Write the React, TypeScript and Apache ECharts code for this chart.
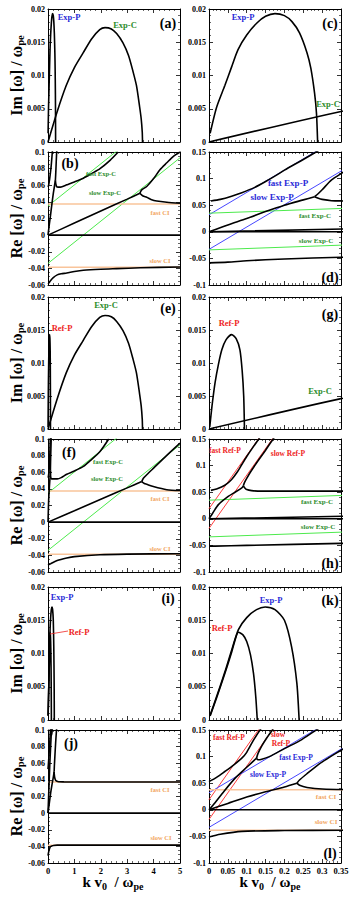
import React, { useEffect, useRef } from "react";
import * as echarts from "echarts";

const FONT = "Liberation Serif";

// ---------- tick settings ----------
const xLeft = { min: 0, max: 5, interval: 1, minor: 5 };
const xRight = { min: 0, max: 0.35, interval: 0.05, minor: 5 };
const yIm = { min: 0, max: 0.02, interval: 0.005, minor: 5 };
const yReLeft = { min: -0.06, max: 0.1, interval: 0.02, minor: 4 };
const yReRight = { min: -0.1, max: 0.15, interval: 0.05, minor: 5 };

// ---------- asymptote lines [k, Re w] ----------
const fastExpC = [[0, 0.035], [5, 0.162]];
const slowExpC = [[0, -0.034], [5, 0.093]];
const fastExpP = [[0, 0.032], [0.5, 0.242]];
const slowExpP = [[0, -0.033], [0.5, 0.177]];
const fastRefP = [[0, 0.019], [0.2, 0.219]];
const slowRefP = [[0, -0.018], [0.2, 0.182]];
const fastCI = [[0, 0.0375], [5, 0.0375]];
const slowCI = [[0, -0.0385], [5, -0.0385]];
const zeroMode = [[0, 0], [5, 0]];

// ---------- case 1 : Exp-C + Exp-P ----------
const imExpP1 = [[0.003, 0.0013], [0.02, 0.0052], [0.042, 0.0085], [0.06, 0.0113], [0.077, 0.0139], [0.1, 0.0161], [0.127, 0.0179], [0.15, 0.0189], [0.175, 0.0193], [0.2, 0.019], [0.22, 0.0181], [0.24, 0.0164], [0.26, 0.0134], [0.27, 0.0111], [0.28, 0.0073], [0.285, 0.0043], [0.288, 0]];
const imExpC = [[0, 0], [0.35, 0.0046], [0.69, 0.0085], [1.0, 0.0112], [1.33, 0.0134], [1.65, 0.0155], [1.96, 0.0169], [2.16, 0.0172], [2.4, 0.017], [2.6, 0.0163], [2.84, 0.0149], [3.05, 0.013], [3.22, 0.0106], [3.35, 0.0085], [3.47, 0.0053], [3.53, 0.0035], [3.57, 0.0015], [3.58, 0]];
const reExpPUpper1 = [[0.005, 0.058], [0.03, 0.061], [0.06, 0.067], [0.087, 0.0736], [0.12, 0.083], [0.149, 0.094], [0.18, 0.107], [0.2, 0.116], [0.25, 0.136], [0.286, 0.151], [0.32, 0.166]];
const reExpPMid1 = [[0, 0], [0.05, 0.013], [0.1, 0.025], [0.15, 0.038], [0.2, 0.05], [0.25, 0.06], [0.28, 0.066]];
const reExpPMidUp1 = [[0.28, 0.066], [0.29, 0.072], [0.3, 0.079], [0.325, 0.0976], [0.356, 0.112], [0.4, 0.134], [0.45, 0.156]];
const reExpPMidDown1 = [[0.28, 0.066], [0.29, 0.063], [0.3, 0.061], [0.325, 0.0585], [0.356, 0.058], [0.4, 0.0577], [0.5, 0.058], [0.71, 0.0605], [1.0, 0.064], [1.34, 0.0685], [1.65, 0.074], [1.97, 0.08], [2.35, 0.09], [2.66, 0.1]];
const reExpCMid1 = [[0, 0], [1, 0.0145], [2, 0.029], [3, 0.0433], [3.48, 0.0504]];
const reExpCMidUp1 = [[3.48, 0.0504], [3.55, 0.0545], [3.74, 0.0585], [4.0, 0.068], [4.24, 0.0786], [4.5, 0.087], [4.75, 0.0948], [5, 0.1]];
const reExpCMidDown1 = [[3.48, 0.0504], [3.6, 0.047], [3.74, 0.0456], [3.9, 0.043], [4.12, 0.041], [4.5, 0.0395], [5, 0.0383]];
const reBottom1 = [[0, -0.0585], [0.05, -0.057], [0.1, -0.0545], [0.2, -0.051], [0.35, -0.0478], [0.5, -0.0465], [0.71, -0.0456], [1.0, -0.0438], [1.34, -0.0423], [2, -0.041], [2.6, -0.0403], [3.5, -0.0393], [5, -0.0383]];

// ---------- case 2 : Exp-C + Ref-P ----------
const imRefP2 = [[0.002, 0.0003], [0.008, 0.0035], [0.016, 0.007], [0.025, 0.0098], [0.034, 0.012], [0.045, 0.0135], [0.06, 0.0143], [0.072, 0.0137], [0.082, 0.012], [0.088, 0.0088], [0.092, 0.005], [0.094, 0]];
const reRefUp2 = [[0.005, 0.0534], [0.02, 0.056], [0.042, 0.063], [0.06, 0.074], [0.075, 0.088], [0.087, 0.102], [0.1, 0.117], [0.126, 0.144], [0.15, 0.168]];
const reRefMid2 = [[0, 0], [0.01, 0.011], [0.025, 0.0266], [0.051, 0.042], [0.069, 0.05], [0.087, 0.058], [0.091, 0.062]];
const reRefMidUp2 = [[0.091, 0.062], [0.094, 0.068], [0.1, 0.076], [0.11, 0.088], [0.13, 0.109], [0.15, 0.129], [0.17, 0.15], [0.2, 0.18]];
const reRefMidDown2 = [[0.091, 0.062], [0.095, 0.058], [0.1, 0.055], [0.113, 0.053], [0.14, 0.052], [0.35, 0.052], [0.5, 0.0535], [0.71, 0.0575], [1.0, 0.0615], [1.34, 0.067], [1.6, 0.074], [1.97, 0.085], [2.3, 0.1]];
const reExpCMid2 = [[0, 0], [1, 0.0137], [2, 0.0275], [3, 0.0412], [3.55, 0.0488]];
const reExpCMidUp2 = [[3.55, 0.0488], [3.62, 0.053], [3.74, 0.057], [4.0, 0.065], [4.49, 0.08], [5, 0.095]];
const reExpCMidDown2 = [[3.55, 0.0488], [3.65, 0.0465], [3.74, 0.0455], [3.99, 0.0428], [4.5, 0.039], [5, 0.038]];
const reBottom2 = [[0, -0.0515], [0.016, -0.0513], [0.1, -0.05], [0.35, -0.0462], [0.71, -0.0432], [1.0, -0.0415], [1.97, -0.0392], [3, -0.0385], [5, -0.038]];

// ---------- case 3 : Exp-P + Ref-P ----------
const imExpP3 = [[0.003, 0.00075], [0.02, 0.0035], [0.042, 0.0072], [0.06, 0.0105], [0.078, 0.0136], [0.1, 0.0154], [0.126, 0.0166], [0.149, 0.017], [0.175, 0.0166], [0.2, 0.015], [0.219, 0.011], [0.233, 0.0055], [0.239, 0]];
const imRefP3 = [[0.003, 0.0006], [0.02, 0.0033], [0.042, 0.007], [0.06, 0.0102], [0.07, 0.0122], [0.078, 0.0132], [0.09, 0.0128], [0.1, 0.0118], [0.11, 0.0098], [0.118, 0.007], [0.124, 0.0035], [0.128, 0]];
const reRefUp3 = [[0, 0.053], [0.02, 0.061], [0.042, 0.072], [0.065, 0.084], [0.087, 0.097], [0.1, 0.108], [0.118, 0.131], [0.14, 0.155]];
const reRefMid3 = [[0, 0], [0.011, 0.009], [0.04, 0.035], [0.07, 0.06], [0.1, 0.08], [0.126, 0.097]];
const reRefMidUp3 = [[0.126, 0.097], [0.13, 0.106], [0.14, 0.12], [0.153, 0.135], [0.17, 0.152]];
const reRefMidDown3 = [[0.126, 0.097], [0.13, 0.094], [0.14, 0.095], [0.16, 0.1], [0.2, 0.115], [0.246, 0.132], [0.28, 0.148], [0.3, 0.157], [0.35, 0.178]];
const reExpPMid3 = [[0, 0], [0.05, 0.012], [0.1, 0.024], [0.15, 0.034], [0.2, 0.043], [0.233, 0.05]];
const reExpPMidUp3 = [[0.233, 0.05], [0.24, 0.056], [0.26, 0.068], [0.29, 0.085], [0.32, 0.099], [0.35, 0.112], [0.4, 0.135], [0.5, 0.177]];
const reExpPMidDown3 = [[0.233, 0.05], [0.24, 0.046], [0.26, 0.042], [0.3, 0.039], [0.4, 0.0378], [0.6, 0.0376], [1, 0.0375], [5, 0.0375]];
const reBottom3 = [[0, -0.051], [0.03, -0.046], [0.087, -0.0405], [0.2, -0.039], [0.35, -0.0385], [1, -0.0385], [5, -0.0385]];

// ---------- colours ----------
const BLACK = "#000000";
const GREEN_LINE = "#4dea4d";
const BLUE_LINE = "#4646ff";
const RED_LINE = "#ff3b3b";
const ORANGE_LINE = "#f9c49a";
const GREEN_TXT = "#2b8c2b";
const BLUE_TXT = "#2a2ad8";
const RED_TXT = "#ee2424";
const ORANGE_TXT = "#f2a55e";

// ---------- layout ----------
const COLS = [{ left: 48, width: 132 }, { left: 209, width: 132 }];
const ROWS = [
  { top: 9, h: 133, kind: "im" },
  { top: 152, h: 133, kind: "re" },
  { top: 297, h: 132, kind: "im" },
  { top: 439, h: 133, kind: "re" },
  { top: 587, h: 133, kind: "im" },
  { top: 730, h: 133, kind: "re" },
];

const fmt = (v: number) => String(Math.round(v * 10000) / 10000);

function buildOption() {
  const grid: any[] = [];
  const xAxis: any[] = [];
  const yAxis: any[] = [];
  const series: any[] = [];
  const graphic: any[] = [];

  ROWS.forEach((r, ri) => {
    COLS.forEach((c, ci) => {
      const g = ri * 2 + ci;
      grid.push({ left: c.left, top: r.top, width: c.width, height: r.h, containLabel: false });
      const xs = ci === 0 ? xLeft : xRight;
      const ys = r.kind === "im" ? yIm : ci === 0 ? yReLeft : yReRight;
      const bottomRow = ri === ROWS.length - 1;
      const common = (s: any) => ({
        type: "value",
        gridIndex: g,
        min: s.min,
        max: s.max,
        interval: s.interval,
        axisLine: { show: true, onZero: false, lineStyle: { color: BLACK, width: 1 } },
        axisTick: { show: true, inside: true, length: 4, lineStyle: { color: BLACK, width: 0.8 } },
        minorTick: { show: true, splitNumber: s.minor, length: 2, lineStyle: { color: BLACK, width: 0.6 } },
        splitLine: { show: false },
        minorSplitLine: { show: false },
      });
      xAxis.push({
        ...common(xs),
        position: "bottom",
        axisLabel: {
          show: bottomRow,
          formatter: fmt,
          fontFamily: FONT,
          fontWeight: "bold",
          fontSize: 8.5,
          color: BLACK,
          margin: 3,
          showMinLabel: true,
          showMaxLabel: true,
        },
      });
      xAxis.push({ ...common(xs), position: "top", axisLabel: { show: false } });
      yAxis.push({
        ...common(ys),
        position: "left",
        axisLabel: {
          show: true,
          formatter: fmt,
          fontFamily: FONT,
          fontWeight: "bold",
          fontSize: 8,
          color: BLACK,
          margin: 3,
          showMinLabel: true,
          showMaxLabel: true,
        },
      });
      yAxis.push({ ...common(ys), position: "right", axisLabel: { show: false } });
    });
  });

  const add = (g: number, data: number[][], color: string, width: number, z: number) => {
    series.push({
      type: "line",
      xAxisIndex: 2 * g,
      yAxisIndex: 2 * g,
      data,
      symbol: "none",
      showSymbol: false,
      smooth: color === BLACK ? 0.25 : false,
      clip: true,
      silent: true,
      z,
      lineStyle: { color, width },
    });
  };
  const blk = (g: number, arr: number[][][]) => arr.forEach((d) => add(g, d, BLACK, 1.6, 5));
  const thin = (g: number, arr: number[][][], color: string, w = 1) => arr.forEach((d) => add(g, d, color, w, 3));

  // row 1: (a), (c)
  blk(0, [imExpP1, imExpC]);
  blk(1, [imExpP1, imExpC]);
  // row 2: (b), (d)
  const case1 = [reExpPUpper1, reExpPMid1, reExpPMidUp1, reExpPMidDown1, reExpCMid1, reExpCMidUp1, reExpCMidDown1, reBottom1, zeroMode];
  thin(2, [fastExpC, slowExpC], GREEN_LINE);
  thin(2, [fastCI, slowCI], ORANGE_LINE, 1.5);
  blk(2, case1);
  thin(3, [fastExpP, slowExpP], BLUE_LINE);
  thin(3, [fastExpC, slowExpC], GREEN_LINE);
  blk(3, case1);
  // row 3: (e), (g)
  blk(4, [imRefP2, imExpC]);
  blk(5, [imRefP2, imExpC]);
  // row 4: (f), (h)
  const case2 = [reRefUp2, reRefMid2, reRefMidUp2, reRefMidDown2, reExpCMid2, reExpCMidUp2, reExpCMidDown2, reBottom2, zeroMode];
  thin(6, [fastExpC, slowExpC], GREEN_LINE);
  thin(6, [fastCI, slowCI], ORANGE_LINE, 1.5);
  blk(6, case2);
  thin(7, [fastRefP, slowRefP], RED_LINE);
  thin(7, [fastExpC, slowExpC], GREEN_LINE);
  blk(7, case2);
  // row 5: (i), (k)
  blk(8, [imExpP3, imRefP3]);
  blk(9, [imExpP3, imRefP3]);
  // row 6: (j), (l)
  const case3 = [reRefUp3, reRefMid3, reRefMidUp3, reRefMidDown3, reExpPMid3, reExpPMidUp3, reExpPMidDown3, reBottom3, zeroMode];
  thin(10, [fastCI, slowCI], ORANGE_LINE, 1.5);
  blk(10, case3);
  thin(11, [fastRefP, slowRefP], RED_LINE);
  thin(11, [fastExpP, slowExpP], BLUE_LINE);
  thin(11, [fastCI, slowCI], ORANGE_LINE, 1.5);
  blk(11, case3);

  // ---------- annotations ----------
  const txt = (text: string, x: number, y: number, color: string, size: number) =>
    graphic.push({
      type: "text",
      x,
      y,
      z: 100,
      silent: true,
      style: {
        text,
        fill: color,
        font: `bold ${size}px "${FONT}"`,
        textAlign: "center",
        textVerticalAlign: "middle",
        align: "center",
        verticalAlign: "middle",
      },
    });
  const L = 14;
  const S = 8.5;
  // (a)
  txt("Exp-P", 69, 17, BLUE_TXT, S); txt("Exp-C", 125, 25, GREEN_TXT, S); txt("(a)", 168, 23, BLACK, L);
  // (c)
  txt("Exp-P", 243, 17, BLUE_TXT, S); txt("Exp-C", 328, 104, GREEN_TXT, S); txt("(c)", 330, 23, BLACK, L);
  // (b)
  txt("fast Exp-C", 101, 173, GREEN_TXT, 6.5); txt("slow Exp-C", 105, 192, GREEN_TXT, 6.5);
  txt("fast CI", 160, 212, ORANGE_TXT, 6.5); txt("slow CI", 160, 260, ORANGE_TXT, 6.5); txt("(b)", 70, 163, BLACK, L);
  // (d)
  txt("fast Exp-P", 288, 183, BLUE_TXT, 9); txt("slow Exp-P", 272, 197, BLUE_TXT, 9);
  txt("fast Exp-C", 315, 216, GREEN_TXT, 7); txt("slow Exp-C", 316, 241, GREEN_TXT, 7); txt("(d)", 330, 277, BLACK, L);
  // (e)
  txt("Exp-C", 106, 305, GREEN_TXT, S); txt("Ref-P", 62, 328, RED_TXT, S); txt("(e)", 168, 308, BLACK, L);
  // (g)
  txt("Ref-P", 229, 323, RED_TXT, S); txt("Exp-C", 320, 391, GREEN_TXT, S); txt("(g)", 330, 314, BLACK, L);
  // (f)
  txt("fast Exp-C", 108, 461, GREEN_TXT, 6.5); txt("slow Exp-C", 107, 478, GREEN_TXT, 6.5);
  txt("fast CI", 160, 498, ORANGE_TXT, 6.5); txt("slow CI", 160, 548, ORANGE_TXT, 6.5); txt("(f)", 69, 452, BLACK, L);
  // (h)
  txt("fast Ref-P", 225, 450, RED_TXT, 7.5); txt("slow Ref-P", 288, 453, RED_TXT, 7.5);
  txt("fast Exp-C", 317, 502, GREEN_TXT, 7); txt("slow Exp-C", 318, 527, GREEN_TXT, 7); txt("(h)", 330, 563, BLACK, L);
  // (i)
  txt("Exp-P", 62, 597, BLUE_TXT, S); txt("Ref-P", 79, 632, RED_TXT, S); txt("(i)", 168, 598, BLACK, L);
  graphic.push({ type: "line", silent: true, z: 100, shape: { x1: 50, y1: 634, x2: 68, y2: 631 }, style: { stroke: RED_TXT, lineWidth: 0.8 } });
  // (k)
  txt("Exp-P", 271, 600, BLUE_TXT, S); txt("Ref-P", 222, 628, RED_TXT, S); txt("(k)", 330, 600, BLACK, L);
  // (j)
  txt("fast CI", 160, 789, ORANGE_TXT, 6.5); txt("slow CI", 161, 837, ORANGE_TXT, 6.5); txt("(j)", 71, 743, BLACK, L);
  // (l)
  txt("fast Ref-P", 229, 737, RED_TXT, 7.5); txt("slow", 278, 734, RED_TXT, 7.5); txt("Ref-P", 281, 743, RED_TXT, 7.5);
  txt("fast Exp-P", 296, 757, BLUE_TXT, 7.5); txt("slow Exp-P", 268, 774, BLUE_TXT, 7.5);
  txt("fast CI", 326, 797, ORANGE_TXT, 7); txt("slow CI", 326, 822, ORANGE_TXT, 7); txt("(l)", 330, 853, BLACK, L);

  // ---------- axis titles with subscripts ----------
  const ctx = document.createElement("canvas").getContext("2d")!;
  const measure = (t: string, size: number) => {
    ctx.font = `bold ${size}px "${FONT}"`;
    return ctx.measureText(t).width;
  };
  const title = (pieces: { t: string; s: number; dy: number }[], cx: number, cy: number, rot: number) => {
    const widths = pieces.map((p) => measure(p.t, p.s));
    const total = widths.reduce((a, b) => a + b, 0);
    let off = -total / 2;
    const children = pieces.map((p, i) => {
      const el = {
        type: "text",
        x: off,
        y: p.dy,
        silent: true,
        style: {
          text: p.t,
          fill: BLACK,
          font: `bold ${p.s}px "${FONT}"`,
          textAlign: "left",
          textVerticalAlign: "middle",
          align: "left",
          verticalAlign: "middle",
        },
      };
      off += widths[i];
      return el;
    });
    graphic.push({ type: "group", x: cx, y: cy, rotation: rot, silent: true, z: 100, children });
  };
  const imT = [
    { t: "Im [ω] / ω", s: 16, dy: 0 },
    { t: "pe", s: 10.5, dy: 4 },
  ];
  const reT = [
    { t: "Re [ω] / ω", s: 16, dy: 0 },
    { t: "pe", s: 10.5, dy: 4 },
  ];
  ROWS.forEach((r) => {
    title(r.kind === "im" ? imT : reT, 16, r.top + r.h / 2, Math.PI / 2);
  });
  const kT = [
    { t: "k v", s: 15, dy: 0 },
    { t: "0", s: 10, dy: 4 },
    { t: "  / ω", s: 15, dy: 0 },
    { t: "pe", s: 10, dy: 4 },
  ];
  title(kT, 113, 882, 0);
  title(kT, 270, 882, 0);

  return {
    animation: false,
    backgroundColor: "#ffffff",
    grid,
    xAxis,
    yAxis,
    series,
    graphic,
  };
}

export default function App() {
  const ref = useRef<HTMLDivElement>(null);
  useEffect(() => {
    const chart = echarts.init(ref.current!, null, { renderer: "svg" });
    chart.setOption(buildOption() as any);
    return () => chart.dispose();
  }, []);
  return (
    <div
      ref={ref}
      style={{ position: "absolute", left: 0, top: 0, width: 357, height: 899, background: "#fff" }}
    />
  );
}
